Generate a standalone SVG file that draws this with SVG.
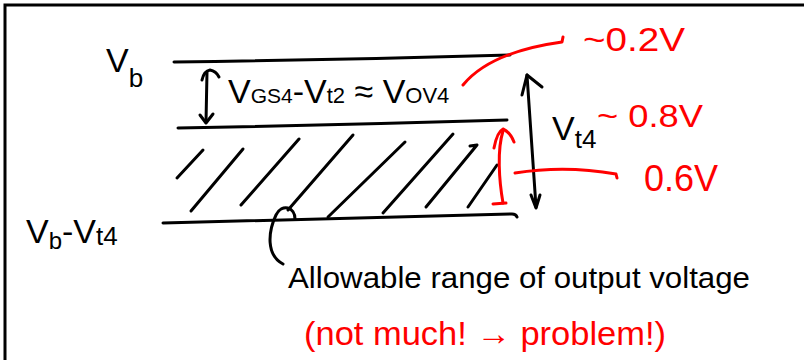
<svg xmlns="http://www.w3.org/2000/svg" width="804" height="360" viewBox="0 0 804 360">
<style>
.ink{fill:none;stroke:#000;stroke-width:3;stroke-linecap:round;stroke-linejoin:round}
.red{fill:none;stroke:#ff0000;stroke-width:3;stroke-linecap:round;stroke-linejoin:round}
.t{font-family:"Liberation Sans","DejaVu Sans",sans-serif;fill:#000}
.tr{font-family:"Liberation Sans","DejaVu Sans",sans-serif;fill:#ff0000}
</style>
<rect x="5" y="5" width="900" height="500" fill="#fff" stroke="#000" stroke-width="3"/>

<g id="level-vb">
  <path class="ink" d="M174,62 Q340,60 510,55"/>
  <text class="t" x="106" y="72" font-size="34">V<tspan font-size="26" dy="15">b</tspan></text>
</g>

<g id="level-mid">
  <path class="ink" d="M178,128 Q340,125 507,120"/>
</g>

<g id="level-vb-vt4">
  <path class="ink" d="M163,223 Q340,219 512,214 Q516,214 517,217"/>
  <text class="t" x="26" y="243" font-size="34">V<tspan font-size="24" dy="6">b</tspan><tspan dy="-6">-V</tspan><tspan font-size="26" dy="2">t4</tspan></text>
</g>

<g id="hatch">
  <path class="ink" d="M203,150 L177,178"/>
  <path class="ink" d="M243,149 L191,211"/>
  <path class="ink" d="M299,139 L241,205"/>
  <path class="ink" d="M353,135 L288,210"/>
  <path class="ink" d="M405,142 L328,217"/>
  <path class="ink" d="M453,134 L383,213"/>
  <path class="ink" d="M477,145 L426,207 M470,146 L477,145"/>
  <path class="ink" d="M497,165 L468,207"/>
</g>

<g id="label-vov">
  <text class="t" x="228" y="103" font-size="34">V<tspan font-size="21">GS4</tspan><tspan>-V</tspan><tspan font-size="22">t2</tspan><tspan> ≈ V</tspan><tspan font-size="22">OV4</tspan></text>
</g>

<g id="label-vt4">
  <text class="t" x="552" y="140" font-size="34">V<tspan font-size="26" dy="8">t4</tspan></text>
</g>

<g id="label-02">
  <text class="tr" x="583" y="51" font-size="34" textLength="102" lengthAdjust="spacingAndGlyphs">~0.2V</text>
</g>

<g id="label-08">
  <text class="tr" x="597" y="127" font-size="32" textLength="106" lengthAdjust="spacingAndGlyphs">~ 0.8V</text>
</g>

<g id="label-06">
  <text class="tr" x="644" y="191" font-size="36">0.6V</text>
</g>

<g id="label-range">
  <text class="t" x="288" y="288" font-size="30" textLength="462" lengthAdjust="spacingAndGlyphs">Allowable range of output voltage</text>
</g>

<g id="label-note">
  <text class="tr" x="304" y="345" font-size="34" textLength="362" lengthAdjust="spacingAndGlyphs">(not much! → problem!)</text>
</g>

<g id="connectors">
  <!-- double arrow Vov -->
  <path class="ink" d="M207,72 L206,122"/>
  <path class="ink" d="M202,80 Q204,71 210,70 Q216,71 219,77"/>
  <path class="ink" d="M200,115 L206,123 L213,114"/>
  <!-- Vt4 arrow -->
  <path class="ink" d="M527,75 L536,207"/>
  <path class="ink" d="M522,95 L527,75 L542,87"/>
  <path class="ink" d="M531,195 L536,208 L540,195"/>
  <!-- red arrow range -->
  <path class="red" d="M503,203 C499,180 497,150 503,131"/>
  <path class="red" d="M494,148 Q497,132 503,129 Q510,132 514,142"/>
  <path class="red" d="M493,204 L506,203"/>
  <!-- red leader 0.2V -->
  <path class="red" d="M463,85 Q490,52 562,42 L563,37"/>
  <!-- red leader 0.6V -->
  <path class="red" d="M515,173 Q565,165 616,174 L617,178"/>
  <!-- black leader to range -->
  <path class="ink" d="M295,219 C295,207 282,203 276,215 C268,232 266,255 283,264"/>
</g>
</svg>
